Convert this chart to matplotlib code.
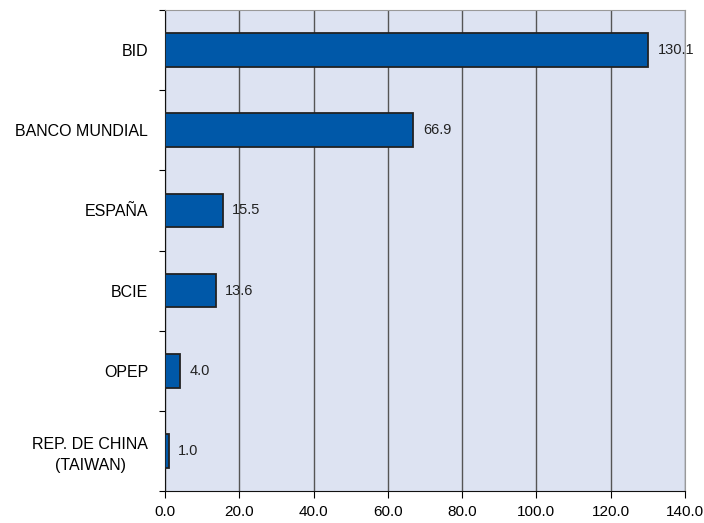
import matplotlib.pyplot as plt
import numpy as np

# ── Data ──────────────────────────────────────────────────────────────────
categories = ["BID", "BANCO MUNDIAL", "ESPAÑA", "BCIE", "OPEP", "REP. DE CHINA\n(TAIWAN)"]
values     = [130.1, 66.9, 15.5, 13.6, 4.0, 1.0]
xticks     = [0, 20, 40, 60, 80, 100, 120, 140]

plt.rcParams['font.family'] = ['Liberation Sans', 'DejaVu Sans']

fig = plt.figure(figsize=(7.04, 5.23), dpi=100)
ax = fig.add_axes([165 / 704, 1 - 491 / 523, 520 / 704, 481 / 523])

n = len(categories)
ypos = np.arange(n)
ax.barh(ypos, values, height=0.42, color='#0058a8', edgecolor='#222222', linewidth=1.3, zorder=3)

for y, v in zip(ypos, values):
    ax.text(v + 2.5, y, f"{v:.1f}", va='center', ha='left', fontsize=10.5, color='#222222')

ax.set_facecolor('#dde3f2')
ax.set_xlim(0, 140)
ax.set_ylim(n - 0.5, -0.5)

ax.set_xticks(xticks)
ax.set_xticklabels([f"{t:.1f}" for t in xticks], fontsize=11)
ax.xaxis.grid(True, color='#555555', linewidth=1, zorder=1)

# ticks at category boundaries, labels in the middle
ax.set_yticks(np.arange(n + 1) - 0.5)
ax.set_yticklabels([])
ax.set_yticks(ypos, minor=True)
ax.set_yticklabels(categories, minor=True, fontsize=11.5, ha='right', multialignment='center',
                   linespacing=1.5)
ax.tick_params(axis='y', which='minor', length=0, pad=12)
ax.tick_params(axis='y', which='major', length=4, direction='out')
ax.tick_params(axis='x', length=5, direction='out', pad=5)

for side in ['top', 'right']:
    ax.spines[side].set_color('#999999')
ax.spines['left'].set_color('#111111')
ax.spines['bottom'].set_color('#111111')

fig.savefig("out.png", dpi=100)
